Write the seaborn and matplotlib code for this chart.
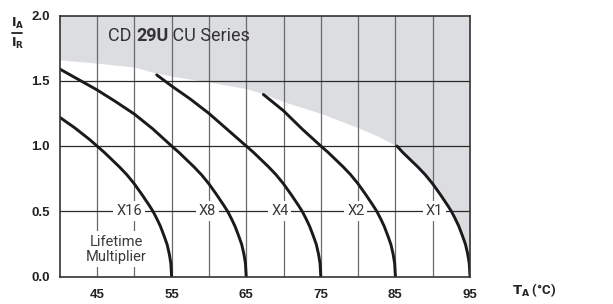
import numpy as np
import pandas as pd
import matplotlib
matplotlib.use("Agg")
import matplotlib.pyplot as plt
import seaborn as sns
from matplotlib.lines import Line2D
from matplotlib import font_manager

# ---------------- data ----------------
x16_t = [40, 41, 42, 43, 44, 45, 46, 47, 48, 49, 50, 51, 52, 52.5, 53, 53.5, 54, 54.4, 54.7, 54.9, 55]
x16_i = [1.22, 1.18, 1.14, 1.095, 1.05, 1.0, 0.95, 0.895, 0.84, 0.78, 0.71, 0.63, 0.545, 0.50, 0.445, 0.385, 0.31, 0.245, 0.17, 0.10, 0.0]

x8_t = [40, 42.5, 45, 47.5, 50, 52.5, 55, 56, 57, 58, 59, 60, 61, 62, 62.5, 63, 63.5, 64, 64.4, 64.7, 64.9, 65]
x8_i = [1.59, 1.51, 1.43, 1.34, 1.245, 1.13, 1.0, 0.95, 0.895, 0.84, 0.78, 0.71, 0.63, 0.545, 0.50, 0.445, 0.385, 0.31, 0.245, 0.17, 0.10, 0.0]

x4_t = [53, 55, 57.5, 60, 62.5, 65, 66, 67, 68, 69, 70, 71, 72, 72.5, 73, 73.5, 74, 74.4, 74.7, 74.9, 75]
x4_i = [1.545, 1.46, 1.36, 1.25, 1.125, 1.0, 0.95, 0.895, 0.84, 0.78, 0.71, 0.63, 0.545, 0.50, 0.445, 0.385, 0.31, 0.245, 0.17, 0.10, 0.0]

x2_t = [67.3, 70, 72.5, 75, 76, 77, 78, 79, 80, 81, 82, 82.5, 83, 83.5, 84, 84.4, 84.7, 84.9, 85]
x2_i = [1.395, 1.27, 1.13, 1.0, 0.95, 0.895, 0.84, 0.78, 0.71, 0.63, 0.545, 0.50, 0.445, 0.385, 0.31, 0.245, 0.17, 0.10, 0.0]

x1_t = [85.2, 86, 87, 88, 89, 90, 91, 92, 92.5, 93, 93.5, 94, 94.4, 94.7, 94.9, 95]
x1_i = [1.0, 0.95, 0.895, 0.84, 0.78, 0.71, 0.63, 0.545, 0.50, 0.445, 0.385, 0.31, 0.245, 0.17, 0.10, 0.0]

# lower edge of the grey area, above the curves
limit_t = [40, 45, 50, 52.5, 55, 60, 65, 67.3, 70, 75, 80, 82.5, 85.2]
limit_i = [1.66, 1.635, 1.605, 1.565, 1.535, 1.49, 1.44, 1.40, 1.34, 1.25, 1.14, 1.08, 1.0]

multipliers = ["X16", "X8", "X4", "X2", "X1"]
label_t = [49.3, 59.8, 69.5, 79.7, 90.2]
label_i = 0.5

x_ticks = [45, 55, 65, 75, 85, 95]
y_ticks = [0.0, 0.5, 1.0, 1.5, 2.0]

# ---------------- style ----------------
sns.set_theme(style="white")
avail = {f.name for f in font_manager.fontManager.ttflist}
narrow = "Liberation Sans Narrow" if "Liberation Sans Narrow" in avail else "Roboto"
plt.rcParams["font.family"] = ["Liberation Sans", "DejaVu Sans"]

W, H = 613, 304
fig = plt.figure(figsize=(W / 100, H / 100), dpi=100)
ax = fig.add_axes([59.7 / W, 1 - 276.5 / H, (470 - 59.7) / W, (276.5 - 15.5) / H])

# grey area
ft = np.array(limit_t + x1_t[1:])
fi = np.array(limit_i + x1_i[1:])
ax.fill_between(ft, fi, 2.0, color="#dcdde0", lw=0, zorder=1)

# grid
for t in range(45, 95, 5):
    ax.axvline(t, color="#6a6a6a", lw=0.9, zorder=2)
for v in [0.5, 1.0, 1.5]:
    ax.axhline(v, color="#2a2a2a", lw=0.9, zorder=2)

frames = []
for name, t, i in zip(multipliers, [x16_t, x8_t, x4_t, x2_t, x1_t], [x16_i, x8_i, x4_i, x2_i, x1_i]):
    frames.append(pd.DataFrame({"T": t, "I": i, "mult": name}))
df = pd.concat(frames, ignore_index=True)
sns.lineplot(data=df, x="T", y="I", units="mult", estimator=None, sort=False,
             color="#1a1a1a", lw=2.1, ax=ax, zorder=4)

for name, t in zip(multipliers, label_t):
    ax.text(t, label_i, name, ha="center", va="center", fontsize=10.5, color="#3a3a3a",
            family=[narrow, "DejaVu Sans"],
            bbox=dict(facecolor="white", edgecolor="none", pad=2.0), zorder=3)

ax.text(47.6, 0.21, "Lifetime\nMultiplier", ha="center", va="center", fontsize=10.5,
        color="#3a3a3a", family=[narrow, "DejaVu Sans"], linespacing=1.1,
        bbox=dict(facecolor="white", edgecolor="none", pad=2.5), zorder=3)

# title text with a bold part
t1 = ax.text(46.5, 1.84, "CD ", ha="left", va="center", fontsize=13, color="#333333",
             family=[narrow, "DejaVu Sans"], zorder=5)
t2 = ax.annotate("29U", xy=(1, 0), xycoords=t1, ha="left", va="bottom", fontsize=13,
                 color="#333333", fontweight="bold", family=[narrow, "DejaVu Sans"], zorder=5)
t3 = ax.annotate(" CU Series", xy=(1, 0), xycoords=t2, ha="left", va="bottom", fontsize=13,
                 color="#333333", family=[narrow, "DejaVu Sans"], zorder=5)

ax.set_xlim(40, 95)
ax.set_ylim(0, 2.0)
ax.set_xticks(x_ticks)
ax.set_xticklabels([str(v) for v in x_ticks])
ax.set_yticks(y_ticks)
ax.set_yticklabels([f"{v:.1f}" for v in y_ticks])
ax.tick_params(length=0, labelsize=9.5, colors="#222222")
ax.tick_params(axis="x", pad=9)
ax.tick_params(axis="y", pad=7)
for lab in ax.get_xticklabels() + ax.get_yticklabels():
    lab.set_fontweight("bold")
ax.set_xlabel("")
ax.set_ylabel("")
for s in ax.spines.values():
    s.set_color("#333333")
    s.set_linewidth(1.2)
    s.set_visible(True)
    s.set_zorder(6)

# y-axis fraction label I_A / I_R
fig.text(17.5 / W, 1 - 23 / H, r"$\mathbf{I}_{\mathbf{A}}$", ha="center", va="center",
         fontsize=9, color="#222222")
fig.add_artist(Line2D([12 / W, 22 / W], [1 - 33 / H, 1 - 33 / H], color="#222222", lw=1.3,
                      transform=fig.transFigure))
fig.text(17.5 / W, 1 - 43 / H, r"$\mathbf{I}_{\mathbf{R}}$", ha="center", va="center",
         fontsize=9, color="#222222")

# x-axis label
fig.text(534 / W, 1 - 290 / H, r"$\mathbf{T}_{\mathbf{A}}$" + " (°C)", ha="center", va="center",
         fontsize=9.5, fontweight="bold", color="#222222", family=[narrow, "DejaVu Sans"])

fig.savefig("out.png", dpi=100)
